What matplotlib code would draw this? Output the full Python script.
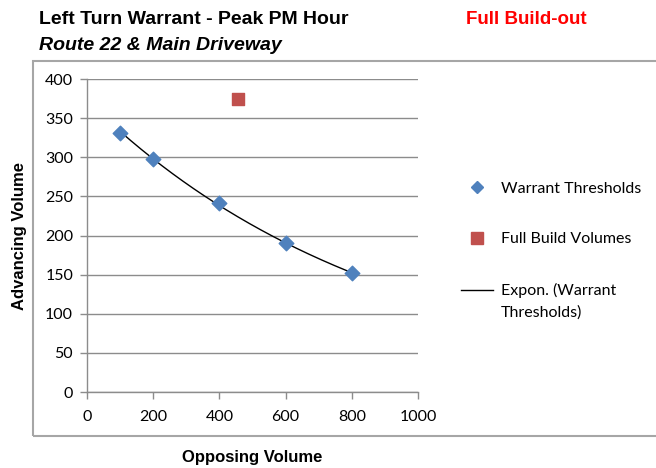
import numpy as np
import matplotlib.pyplot as plt
from matplotlib.patches import Rectangle
from matplotlib.lines import Line2D

# data
warrant_x = [100, 200, 400, 600, 800]
warrant_y = [331, 298, 241, 190, 152]
build_x = [455]
build_y = [375]
x_ticks = [0, 200, 400, 600, 800, 1000]
y_ticks = [0, 50, 100, 150, 200, 250, 300, 350, 400]

blue = "#4F81BD"
red = "#C0504D"
grid_gray = "#8C8C8C"

fig = plt.figure(figsize=(6.56, 4.68), dpi=100)
ax = fig.add_axes([87/656, 1 - 392/468, (418 - 87)/656, (392 - 79)/468])

# exponential trendline (Excel style fit on log y)
b, ln_a = np.polyfit(warrant_x, np.log(warrant_y), 1)
xs = np.linspace(min(warrant_x), max(warrant_x), 200)
trend = np.exp(ln_a) * np.exp(b * xs)

ax.plot(xs, trend, color="black", lw=1.0, zorder=2)
ax.scatter(warrant_x, warrant_y, marker="D", s=55, color=blue, zorder=3)
ax.scatter(build_x, build_y, marker="s", s=75, color=red, zorder=3)

ax.set_xlim(0, 1000)
ax.set_ylim(0, 400)
ax.set_xticks(x_ticks)
ax.set_yticks(y_ticks)
ax.yaxis.grid(True, color=grid_gray, lw=1.0)
ax.set_axisbelow(True)
for s in ["top", "right"]:
    ax.spines[s].set_visible(False)
for s in ["left", "bottom"]:
    ax.spines[s].set_color(grid_gray)
    ax.spines[s].set_linewidth(1.0)
ax.tick_params(axis="both", colors=grid_gray, length=5, width=1.0, labelcolor="black", labelsize=11.5)
for lab in ax.get_xticklabels() + ax.get_yticklabels():
    lab.set_family("Lato")
ax.tick_params(axis="x", pad=8)
ax.tick_params(axis="y", pad=5)

ax.set_xlabel("Opposing Volume", family="Liberation Sans", fontweight="bold", fontsize=12)
ax.xaxis.set_label_coords(0.5, -0.185)
ax.set_ylabel("Advancing Volume", family="Liberation Sans", fontweight="bold", fontsize=12)
ax.yaxis.set_label_coords(-0.18, 0.5)

# chart border
fig.patches.append(Rectangle((33/656, 1 - 436/468), 1, (436 - 61)/468, transform=fig.transFigure,
                             fill=False, edgecolor="#A6A6A6", lw=1.5))

fig.text(39/656, 1 - 20/468, "Left Turn Warrant - Peak PM Hour", family="Liberation Sans",
         fontweight="bold", fontsize=14, va="center")
fig.text(39/656, 1 - 46/468, "Route 22 & Main Driveway", family="Liberation Sans",
         fontweight="bold", style="italic", fontsize=14, va="center")
fig.text(466/656, 1 - 20/468, "Full Build-out", family="Liberation Sans",
         fontweight="bold", fontsize=13.5, color="#FF0000", va="center")

handles = [
    Line2D([], [], ls="none", marker="D", markersize=6.5, color=blue),
    Line2D([], [], ls="none", marker="s", markersize=8, color=red),
    Line2D([], [], color="black", lw=1.0),
]
labels = ["Warrant Thresholds", "Full Build Volumes", "Expon. (Warrant"]
leg = fig.legend(handles, labels, loc="upper left", bbox_to_anchor=(447/656, 1 - 167/468),
                 frameon=False, labelspacing=2.3, handlelength=2.0, handletextpad=0.45,
                 prop={"family": "Lato", "size": 11.5})

# second line of the trendline label, placed under the first
fig.canvas.draw()
bb = leg.get_texts()[2].get_window_extent().transformed(fig.transFigure.inverted())
fig.text(bb.x0, bb.y0 - 22/468 + (bb.y1 - bb.y0) / 2, "Thresholds)", family="Lato", fontsize=11.5,
         va="center", ha="left")

fig.savefig("out.png", dpi=100)
